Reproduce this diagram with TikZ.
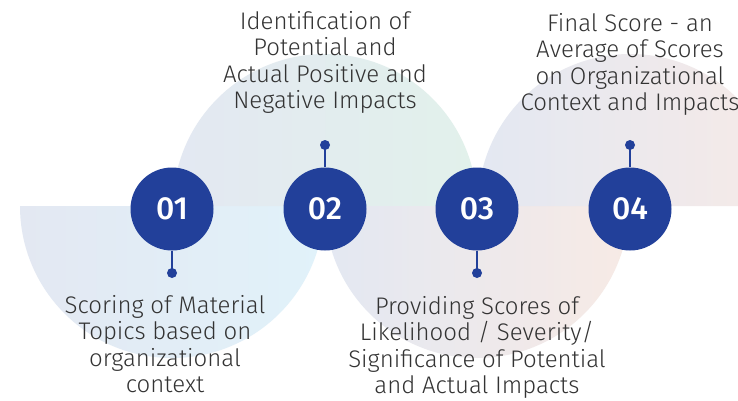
\documentclass[tikz,border=0pt]{standalone}
\usepackage{fontspec}
\setmainfont{Fira Sans}[UprightFont={* Light}, BoldFont={* Medium}]
\begin{document}
\begin{tikzpicture}[x=1pt,y=1pt,
  stepdot/.style={circle, fill=stepblue, draw=none, minimum size=83pt, inner sep=0pt,
    text=white, font=\bfseries\fontsize{32}{32}\selectfont},
  pin/.style={draw=stepblue, line width=2pt},
  pinhead/.style={circle, fill=stepblue, minimum size=10pt, inner sep=0pt},
  caption/.style={align=center, inner sep=0pt, text=captiongray,
    font=\fontsize{24}{26.5}\selectfont}]
\definecolor{stepblue}{HTML}{22409A}
\definecolor{captiongray}{HTML}{333333}
\definecolor{baseA}{HTML}{E3E8F2}
\definecolor{tintA}{HTML}{E1F2FA}
\definecolor{tintB}{HTML}{E2F1EB}
\definecolor{tintC}{HTML}{F7EAE5}
\definecolor{tintD}{HTML}{F6EAE7}
\useasboundingbox (0,0) rectangle (738,400);
\fill[white] (0,0) rectangle (738,400);

% pastel half discs behind the steps
\begin{scope}
  \clip (0,0) rectangle (738,400);
  \shade[left color=baseA, right color=tintA] (20,194) arc[start angle=180, end angle=360, radius=152] -- cycle;
  \shade[left color=baseA, right color=tintB] (173,194) arc[start angle=180, end angle=0, radius=152] -- cycle;
  \shade[left color=baseA, right color=tintC] (325,194) arc[start angle=180, end angle=360, radius=152] -- cycle;
  \shade[left color=baseA, right color=tintD] (478,194) arc[start angle=180, end angle=0, radius=152] -- cycle;
\end{scope}

% numbered steps
\node[stepdot] (s1) at (172,191) {01};
\node[stepdot] (s2) at (325,191) {02};
\node[stepdot] (s3) at (477,191) {03};
\node[stepdot] (s4) at (630,191) {04};

% pins
\node[pinhead] (p1) at (172,127) {};
\node[pinhead] (p2) at (325,255) {};
\node[pinhead] (p3) at (477,127) {};
\node[pinhead] (p4) at (630,255) {};
\draw[pin] (s1.south) -- (p1.center);
\draw[pin] (s2.north) -- (p2.center);
\draw[pin] (s3.south) -- (p3.center);
\draw[pin] (s4.north) -- (p4.center);

% captions
\node[caption, anchor=north] (t1) at (165,105) {Scoring of Material\\Topics based on\\organizational\\context};
\node[caption, anchor=north] (t2) at (325,389) {Identification of\\Potential and\\Actual Positive and\\Negative Impacts};
\node[caption, anchor=north] (t3) at (477,104) {Providing Scores of\\Likelihood / Severity/\\Significance of Potential\\and Actual Impacts};
\node[caption, anchor=north] (t4) at (630,387) {Final Score - an\\Average of Scores\\on Organizational\\Context and Impacts};
\end{tikzpicture}
\end{document}
